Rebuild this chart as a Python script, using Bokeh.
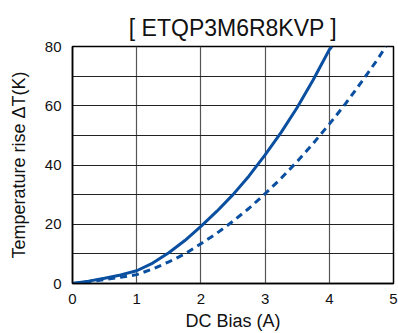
from bokeh.plotting import figure
from bokeh.embed import file_html
from bokeh.resources import INLINE
from bokeh.models import Range1d, SingleIntervalTicker, FixedTicker

title_text = "[ ETQP3M6R8KVP ]"
x_label = "DC Bias (A)"
y_label = "Temperature rise \u0394T(K)"

x_ticks = [0, 1, 2, 3, 4, 5]
y_ticks = [0, 20, 40, 60, 80]

solid_x = [0, 0.25, 0.5, 0.75, 1, 1.25, 1.5, 1.75, 2, 2.25, 2.5, 2.75, 3, 3.25, 3.5, 3.75, 4, 4.04]
solid_y = [0, 0.8, 1.8, 2.9, 4.3, 6.9, 10.4, 14.5, 19.3, 24.4, 30.0, 36.3, 43.4, 51.0, 59.4, 68.8, 78.9, 80]

dash_x = [0, 0.25, 0.5, 0.75, 1, 1.25, 1.5, 1.75, 2, 2.25, 2.5, 2.75, 3, 3.25, 3.5, 3.75, 4, 4.25, 4.5, 4.75, 4.88]
dash_y = [0, 0.6, 1.3, 2.1, 3.0, 4.9, 7.3, 10.0, 13.4, 17.0, 21.0, 25.4, 30.3, 35.5, 41.2, 47.3, 53.8, 60.6, 68.0, 75.6, 80]

FONT = "Liberation Sans"
BLUE = "#0a4fa0"

p = figure(width=398, height=333, output_backend="svg", toolbar_location=None,
           x_range=Range1d(0, 5), y_range=Range1d(0, 80),
           min_border_left=72, min_border_right=5, min_border_top=46, min_border_bottom=50)

p.title.text = title_text
p.title.align = "center"
p.title.text_font = FONT
p.title.text_font_size = "23px"
p.title.text_font_style = "normal"
p.title.text_color = "#111111"
p.title.standoff = 12

p.line(solid_x, solid_y, line_color=BLUE, line_width=3)
p.line(dash_x, dash_y, line_color=BLUE, line_width=3, line_dash="7 5")

p.xaxis.ticker = FixedTicker(ticks=x_ticks)
p.yaxis.ticker = SingleIntervalTicker(interval=20, num_minor_ticks=2)

for ax in (p.xaxis[0], p.yaxis[0]):
    ax.major_tick_out = 0
    ax.major_tick_in = 0
    ax.minor_tick_out = 0
    ax.minor_tick_in = 0
    ax.axis_line_color = "black"
    ax.axis_line_width = 1.5
    ax.major_label_text_font = FONT
    ax.major_label_text_font_size = "15px"
    ax.major_label_text_color = "#111111"
    ax.axis_label_text_font = FONT
    ax.axis_label_text_font_size = "18px"
    ax.axis_label_text_font_style = "normal"
    ax.axis_label_text_color = "#111111"

p.xaxis.axis_label = x_label
p.yaxis.axis_label = y_label
p.xaxis.major_label_standoff = 10
p.yaxis.major_label_standoff = 11
p.xaxis.axis_label_standoff = 4
p.yaxis.axis_label_standoff = 13

p.xgrid.grid_line_color = "#555555"
p.xgrid.grid_line_width = 1.2
p.ygrid.grid_line_color = "#222222"
p.ygrid.grid_line_width = 1.2
p.ygrid.minor_grid_line_color = "#222222"
p.ygrid.minor_grid_line_width = 1.2

p.outline_line_color = "black"
p.outline_line_width = 1.5
p.background_fill_color = "white"
p.border_fill_color = "white"

open("out.html", "w").write(file_html(p, INLINE))
